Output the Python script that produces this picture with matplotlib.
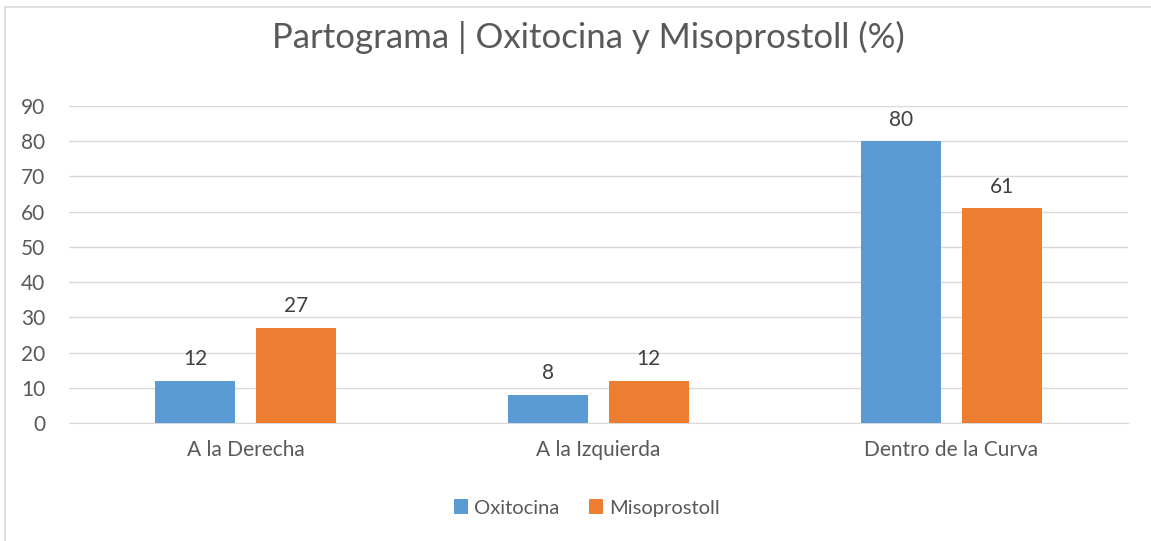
import numpy as np
import matplotlib.pyplot as plt
from matplotlib.patches import Rectangle

categories = ['A la Derecha', 'A la Izquierda', 'Dentro de la Curva']
oxitocina = [12, 8, 80]
misoprostoll = [27, 12, 61]
series_names = ['Oxitocina', 'Misoprostoll']

blue = '#5b9bd5'
orange = '#ed7d31'
txt = '#595959'

plt.rcParams['font.family'] = ['Lato', 'DejaVu Sans']

fig = plt.figure(figsize=(11.51, 5.41), dpi=100)
ax = fig.add_axes([0.06, 0.218, 0.92, 0.586])

# chart border like Excel
fig.patches.append(Rectangle((5 / 1151, -0.1), 1.2, 1 - 7 / 541 + 0.1,
                             transform=fig.transFigure, fill=False,
                             edgecolor='#d9d9d9', linewidth=1.2))

x = np.arange(len(categories))
w = 0.227
off = 0.142
b1 = ax.bar(x - off, oxitocina, w, color=blue, label=series_names[0], zorder=3)
b2 = ax.bar(x + off, misoprostoll, w, color=orange, label=series_names[1], zorder=3)

for bars in (b1, b2):
    for r in bars:
        ax.text(r.get_x() + r.get_width() / 2, r.get_height() + 3.3,
                '%d' % r.get_height(), ha='center', va='bottom',
                fontsize=15, color='#404040')

ax.set_xlim(-0.5, 2.5)
ax.set_ylim(0, 90)
ax.set_yticks(range(0, 91, 10))
ax.yaxis.grid(True, color='#d9d9d9', linewidth=1, zorder=0)
for s in ['top', 'right', 'left']:
    ax.spines[s].set_visible(False)
ax.spines['bottom'].set_color('#d9d9d9')
ax.tick_params(axis='both', length=0, labelsize=15, colors=txt)
ax.tick_params(axis='y', pad=17)
ax.tick_params(axis='x', pad=12)
ax.set_xticks(x)
ax.set_xticklabels(categories)

fig.text(0.511, 0.93, 'Partograma | Oxitocina y Misoprostoll (%)',
         ha='center', va='center', fontsize=25, color=txt)

fig.legend(loc='center', bbox_to_anchor=(0.510, 0.061), ncol=2, frameon=False,
           fontsize=14.5, handlelength=0.7, handleheight=0.7, handletextpad=0.3,
           columnspacing=1.5, labelcolor=txt)

fig.savefig('out.png', dpi=100)
